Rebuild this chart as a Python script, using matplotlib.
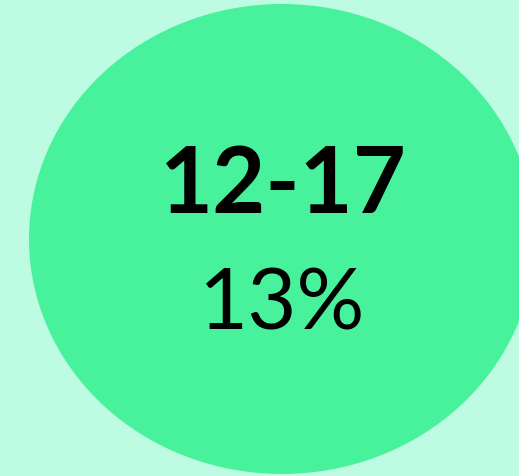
import matplotlib
matplotlib.use("Agg")
import matplotlib.pyplot as plt
from matplotlib.patches import Ellipse

# data
age_group = "12-17"
share_pct = 13

bg_color = "#bdfce2"
blob_color = "#48f29c"

fig = plt.figure(figsize=(5.19, 4.76), dpi=100)
fig.patch.set_facecolor(bg_color)
ax = fig.add_axes([0, 0, 1, 1])
ax.set_xlim(0, 519)
ax.set_ylim(476, 0)
ax.axis("off")

# blob behind the label
ax.add_patch(Ellipse((282, 239), 506, 470, facecolor=blob_color, edgecolor="none"))

ax.text(282, 213, age_group, ha="center", va="baseline", fontsize=66,
        fontweight="bold", family=["Lato", "DejaVu Sans"], color="black")
ax.text(281, 330, f"{share_pct}%", ha="center", va="baseline", fontsize=61,
        family=["Lato", "DejaVu Sans"], color="black")

fig.savefig("out.png", dpi=100, facecolor=bg_color)
